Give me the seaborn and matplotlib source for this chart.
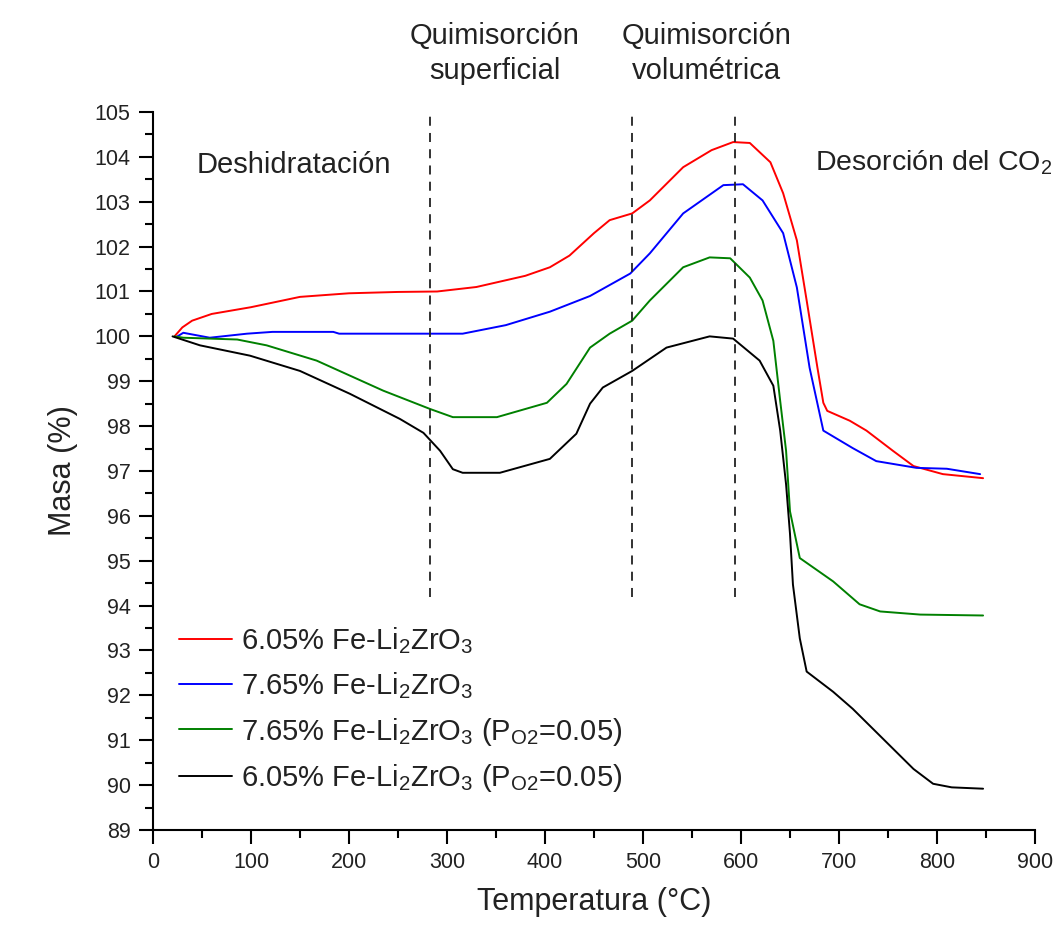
import matplotlib
matplotlib.use('Agg')
import matplotlib.pyplot as plt
from matplotlib.ticker import MultipleLocator
import pandas as pd
import seaborn as sns

# temperature (°C) / mass (%)
t_605 = [22, 30, 40, 60, 100, 150, 200, 250, 290, 330, 380, 405, 425, 450, 466, 489, 507, 541,
         570, 592, 609, 630, 643, 657, 667, 678, 684, 688, 711, 728, 755, 776, 806, 847]
m_605 = [100.0, 100.2, 100.35, 100.5, 100.65, 100.88, 100.96, 100.99, 101.0, 101.1, 101.35, 101.54,
         101.8, 102.3, 102.59, 102.74, 103.03, 103.77, 104.15, 104.33, 104.31, 103.88, 103.19, 102.14,
         100.8, 99.3, 98.52, 98.34, 98.12, 97.9, 97.45, 97.11, 96.93, 96.84]

t_765 = [25, 31, 58, 96, 122, 184, 190, 250, 316, 360, 405, 446, 487, 507, 541, 582, 602, 622,
         643, 657, 670, 684, 714, 738, 779, 810, 844]
m_765 = [100.0, 100.08, 99.97, 100.06, 100.1, 100.1, 100.06, 100.06, 100.06, 100.25, 100.55, 100.9,
         101.4, 101.85, 102.74, 103.37, 103.39, 103.03, 102.3, 101.09, 99.3, 97.9, 97.51, 97.22,
         97.07, 97.05, 96.93]

t_765_o2 = [22, 31, 86, 116, 167, 235, 283, 306, 351, 402, 422, 446, 466, 489, 507, 541, 568, 589,
            609, 622, 633, 640, 646, 650, 660, 694, 721, 742, 783, 847]
m_765_o2 = [100.0, 99.97, 99.93, 99.8, 99.46, 98.79, 98.38, 98.2, 98.2, 98.52, 98.94, 99.75, 100.06,
            100.35, 100.8, 101.54, 101.76, 101.74, 101.31, 100.8, 99.9, 98.56, 97.45, 96.1, 95.06,
            94.54, 94.03, 93.87, 93.8, 93.78]

t_605_o2 = [20, 48, 99, 150, 201, 252, 276, 293, 306, 316, 354, 405, 432, 446, 459, 489, 524, 568,
            592, 619, 633, 640, 646, 650, 653, 660, 667, 694, 714, 745, 776, 796, 815, 847]
m_605_o2 = [100.0, 99.8, 99.57, 99.23, 98.72, 98.16, 97.85, 97.45, 97.04, 96.96, 96.96, 97.27, 97.83,
            98.5, 98.86, 99.23, 99.75, 100.0, 99.95, 99.46, 98.9, 97.9, 96.7, 95.6, 94.47, 93.27,
            92.53, 92.08, 91.7, 91.03, 90.36, 90.03, 89.95, 89.92]

labels = ['6.05% Fe-Li$_2$ZrO$_3$',
          '7.65% Fe-Li$_2$ZrO$_3$',
          '7.65% Fe-Li$_2$ZrO$_3$ (P$_{\\mathregular{O2}}$=0.05)',
          '6.05% Fe-Li$_2$ZrO$_3$ (P$_{\\mathregular{O2}}$=0.05)']
colors = ['#ff0000', '#0000ff', '#008000', '#000000']

stages_x = [283, 489, 594]

frames = []
for lab, t, m in zip(labels, [t_605, t_765, t_765_o2, t_605_o2], [m_605, m_765, m_765_o2, m_605_o2]):
    frames.append(pd.DataFrame({'T': t, 'M': m, 'serie': lab}))
df = pd.concat(frames, ignore_index=True)

sns.set_style('ticks')
plt.rcParams['font.family'] = ['Liberation Sans', 'DejaVu Sans']
plt.rcParams['mathtext.fontset'] = 'custom'
plt.rcParams['mathtext.rm'] = 'Liberation Sans'
plt.rcParams['mathtext.it'] = 'Liberation Sans'
plt.rcParams['mathtext.bf'] = 'Liberation Sans:bold'

txt = '#222222'
fig = plt.figure(figsize=(10.62, 9.31), dpi=100)
ax = fig.add_axes([0.144, 0.1085, 0.8306, 0.7712])

sns.lineplot(data=df, x='T', y='M', hue='serie', hue_order=labels,
             palette=dict(zip(labels, colors)), sort=False, estimator=None,
             linewidth=1.4, ax=ax)

ax.vlines(stages_x, 94.2, 105, colors='#222222', linestyles=(0, (5, 4)), linewidth=1.3)

ax.set_xlim(0, 900)
ax.set_ylim(89, 105)
ax.xaxis.set_major_locator(MultipleLocator(100))
ax.xaxis.set_minor_locator(MultipleLocator(50))
ax.yaxis.set_major_locator(MultipleLocator(1))
ax.yaxis.set_minor_locator(MultipleLocator(0.5))
ax.tick_params(which='major', length=10, width=1.5, labelsize=15.5, colors='black', labelcolor=txt, pad=6)
ax.tick_params(which='minor', length=6, width=1.5, colors='black')
for side in ['left', 'bottom']:
    ax.spines[side].set_linewidth(1.5)
    ax.spines[side].set_color('black')
sns.despine(ax=ax)

ax.set_xlabel('Temperatura (°C)', fontsize=22, color=txt, labelpad=10)
ax.set_ylabel('Masa (%)', fontsize=22, color=txt, labelpad=12)

ax.text(45, 103.82, 'Deshidratación', fontsize=21, color=txt, ha='left', va='center')
ax.text(675, 103.86, 'Desorción del CO$_2$', fontsize=20.5, color=txt, ha='left', va='center')
ax.text(349, 106.3, 'Quimisorción\nsuperficial', fontsize=21, color=txt, ha='center', va='center',
        linespacing=1.3)
ax.text(565, 106.3, 'Quimisorción\nvolumétrica', fontsize=21, color=txt, ha='center', va='center',
        linespacing=1.3)

leg = ax.legend(loc='lower left', bbox_to_anchor=(0.03, 0.05), frameon=False, fontsize=21,
                handlelength=1.8, handletextpad=0.3, labelspacing=0.5, borderpad=0, borderaxespad=0)
for t in leg.get_texts():
    t.set_color(txt)

fig.savefig('out.png', dpi=100)
